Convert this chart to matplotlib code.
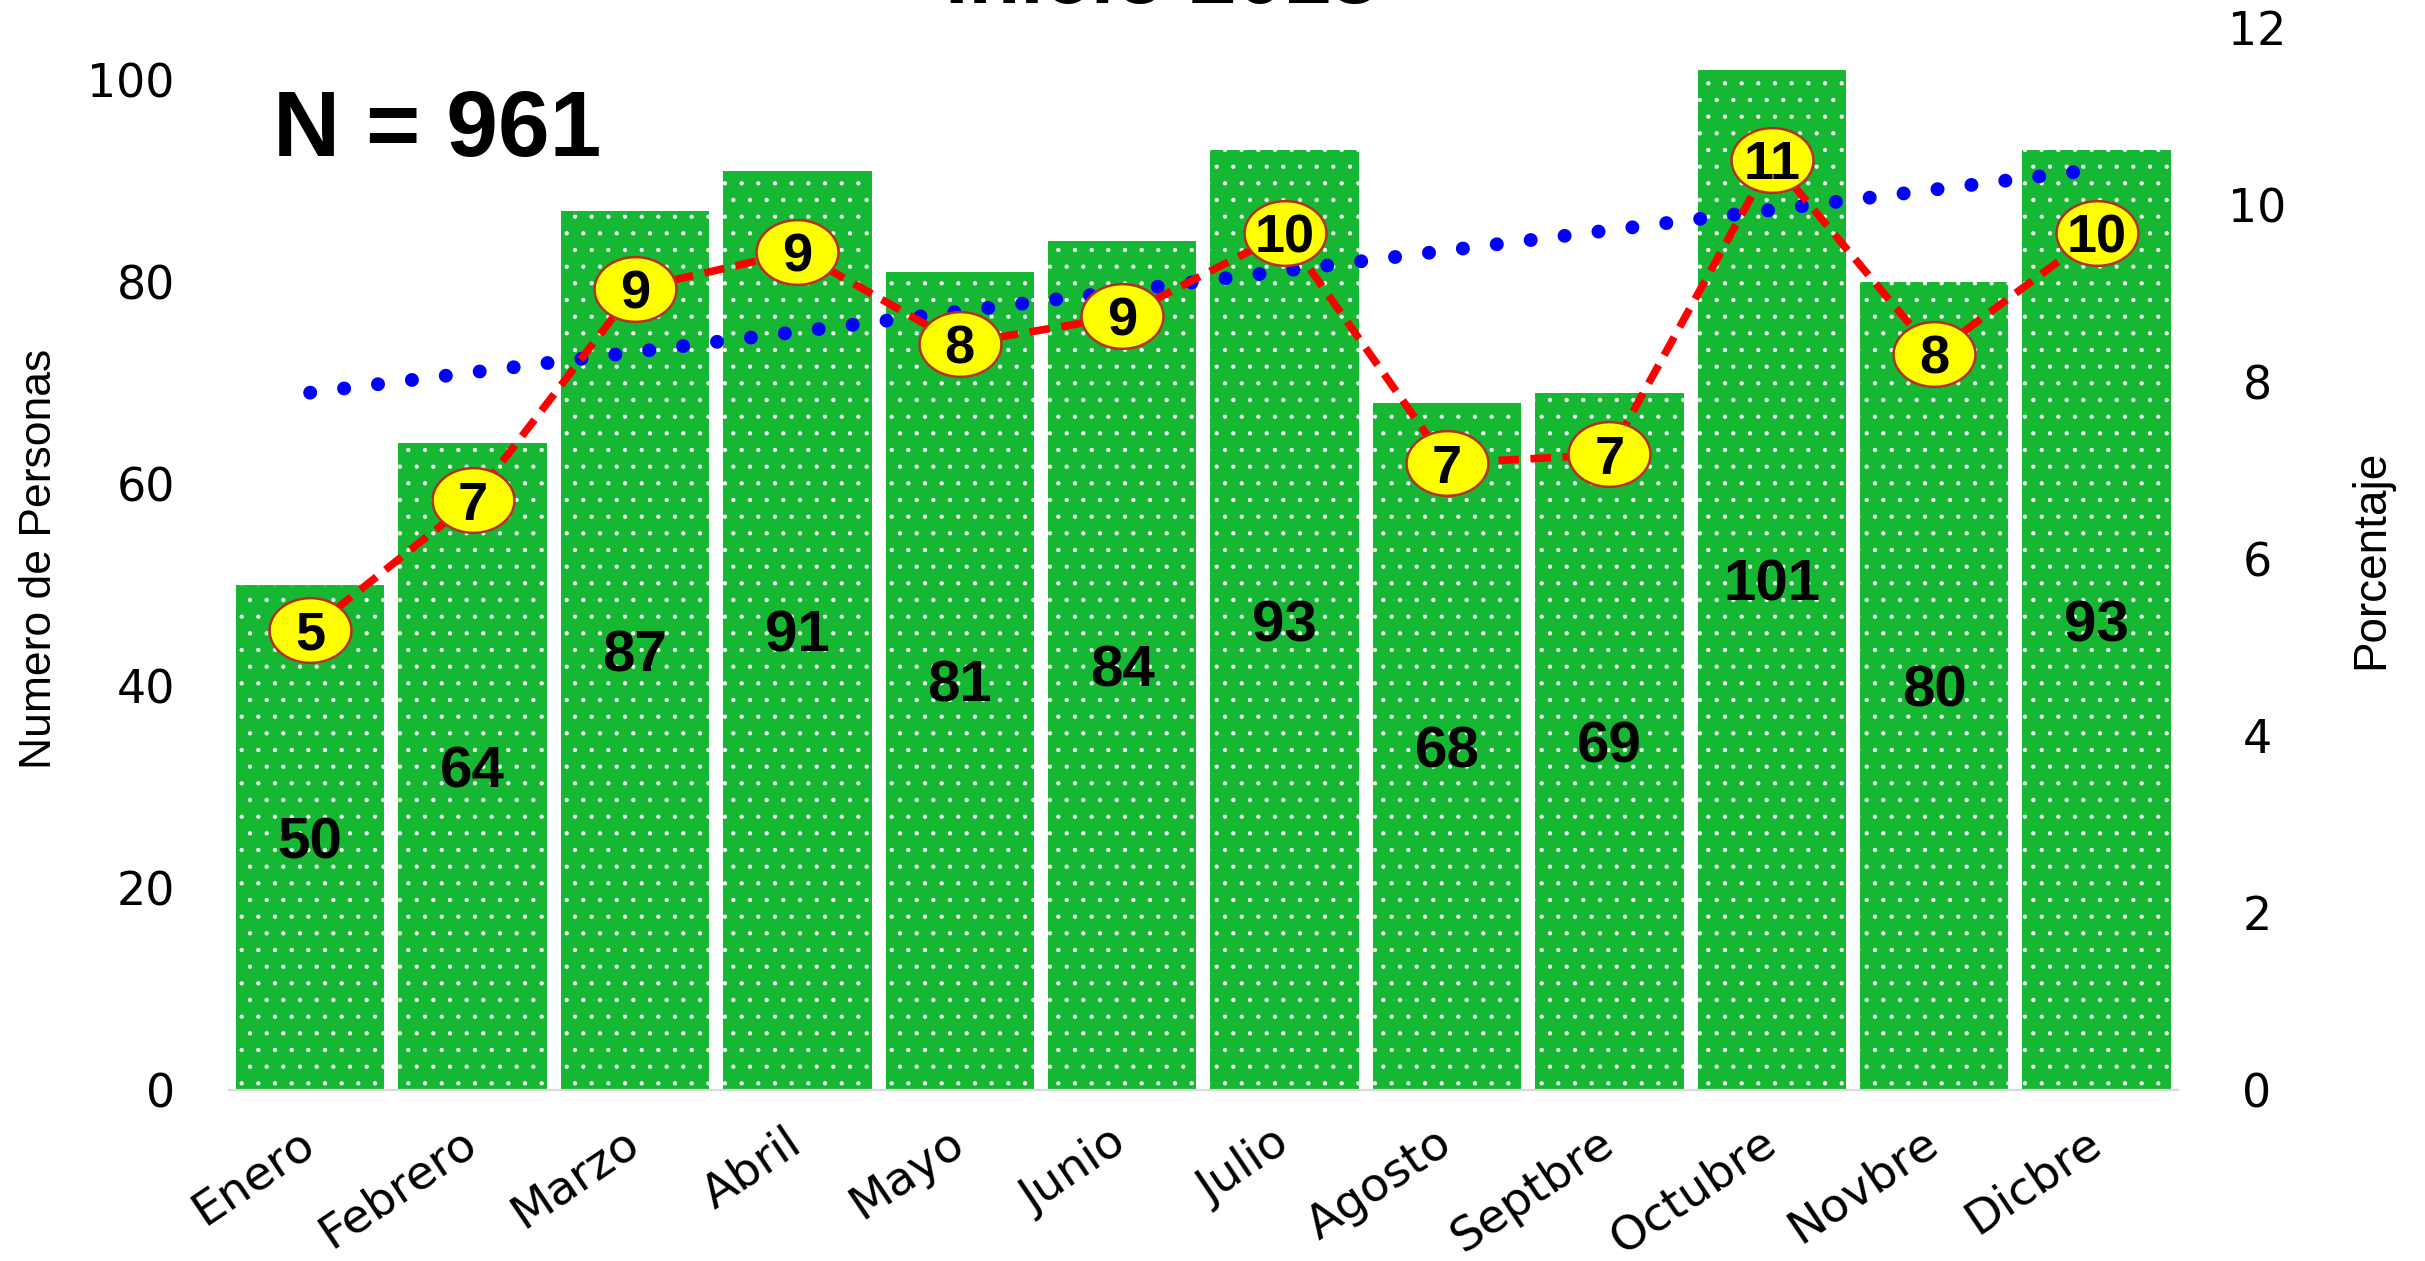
import numpy as np
import matplotlib
matplotlib.use("Agg")
import matplotlib.pyplot as plt
from matplotlib.path import Path

# Monthly data
months = ["Enero", "Febrero", "Marzo", "Abril", "Mayo", "Junio",
          "Julio", "Agosto", "Septbre", "Octubre", "Novbre", "Dicbre"]
personas = [50, 64, 87, 91, 81, 84, 93, 68, 69, 101, 80, 93]
porcentaje = [5.20, 6.66, 9.05, 9.47, 8.43, 8.74, 9.68, 7.08, 7.18, 10.51, 8.32, 9.68]
left_ticks = [0, 20, 40, 60, 80, 100]
right_ticks = [0, 2, 4, 6, 8, 10, 12]
total_text = "N = 961"
title_text = "Inicio 2018"

DPI = 100
plt.rcParams["hatch.linewidth"] = 0.6

fig = plt.figure(figsize=(24.25, 12.61), dpi=DPI)
ax = fig.add_axes([0.0944, 0.1356, 0.8037, 0.8424])
ax2 = ax.twinx()
ax.set_zorder(1)
ax2.set_zorder(2)
ax2.patch.set_visible(False)

x = np.arange(len(months))

# Bars with white dotted texture
ax.bar(x, personas, width=0.914, color="#16B833", edgecolor="white",
       linewidth=0, hatch=".", zorder=2)

for xi, v in zip(x, personas):
    ax.text(xi, v / 2, str(v), ha="center", va="center_baseline", fontsize=42,
            fontweight="bold", family="Liberation Sans", color="black", zorder=3)

# Linear trend of the monthly counts
coef = np.polyfit(x, personas, 1)
trend = np.polyval(coef, x)
ax.plot(x, trend, color="#0000FF", linewidth=10, linestyle=(0, (0.01, 2.45)),
        dash_capstyle="round", zorder=4)

# Percentage line on secondary axis
ax2.plot(x, porcentaje, color="#FF0000", linewidth=5.5,
         linestyle=(0, (2.7, 1.5)), zorder=3)
theta = np.linspace(0, 2 * np.pi, 73)
ellipse = Path(np.column_stack([np.cos(theta), 0.79 * np.sin(theta)]), closed=True)
ax2.plot(x, porcentaje, linestyle="none", marker=ellipse, markersize=59,
         markerfacecolor="#FFFF00", markeredgecolor="#B5301C",
         markeredgewidth=1.8, zorder=5)
for xi, p in zip(x, porcentaje):
    ax2.text(xi, p, f"{p:.0f}", ha="center", va="center_baseline", fontsize=39,
             fontweight="bold", family="Liberation Sans", color="black", zorder=6)

# Axes limits and ticks
ax.set_xlim(-0.5, len(months) - 0.5)
ax.set_ylim(0, 105.15)
ax2.set_ylim(0, 12)
ax.set_yticks(left_ticks)
ax2.set_yticks(right_ticks)
ax.set_xticks(x)
ax.set_xticklabels(months, rotation=34, ha="right", va="center",
                   rotation_mode="anchor", fontsize=34, family="DejaVu Sans")
ax.tick_params(axis="x", length=0, pad=35)
ax.tick_params(axis="y", length=0, pad=39, labelsize=33)
ax2.tick_params(axis="y", length=0, pad=57, labelsize=33)
for lab in ax.get_yticklabels():
    lab.set_family("DejaVu Sans")
for lab in ax2.get_yticklabels():
    lab.set_family("DejaVu Sans")
    lab.set_horizontalalignment("center")

for sp in ["top", "left", "right"]:
    ax.spines[sp].set_visible(False)
    ax2.spines[sp].set_visible(False)
ax2.spines["bottom"].set_visible(False)
ax.spines["bottom"].set_color("#D9D9D9")
ax.spines["bottom"].set_linewidth(1.6)

ax.set_ylabel("Numero de Personas", fontsize=32, family="Liberation Sans", va="center")
ax.yaxis.set_label_coords(-0.097, 0.5)
ax2.set_ylabel("Porcentaje", fontsize=33, family="Liberation Sans", va="center",
               rotation=90)
ax2.yaxis.set_label_coords(1.099, 0.5)

# Annotations
fig.text(0.1125, 0.8763, total_text, ha="left", va="baseline", fontsize=67,
         fontweight="bold", family="Liberation Sans")
fig.text(0.479, 0.9976, title_text, ha="center", va="baseline", fontsize=61,
         fontweight="bold", family="Liberation Sans")

fig.savefig("out.png", dpi=DPI, facecolor="white")
